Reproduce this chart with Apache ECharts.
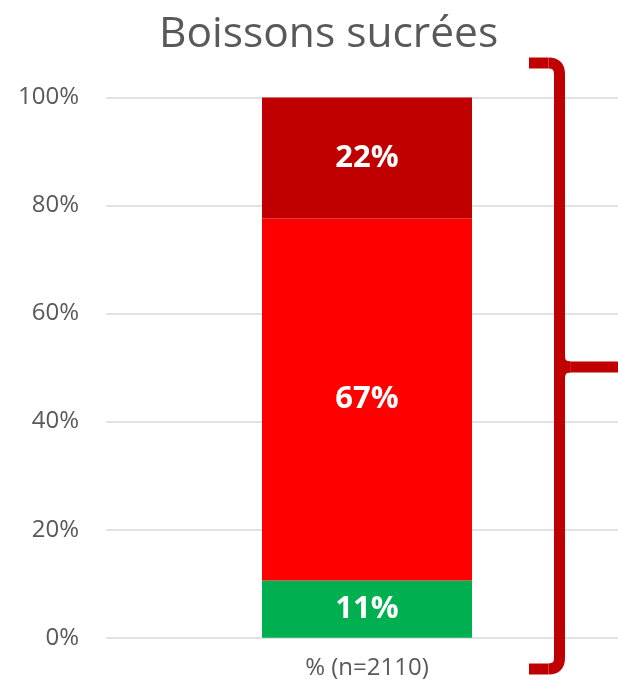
<!DOCTYPE html>
<html>
<head>
<meta charset="utf-8">
<script src="https://cdn.jsdelivr.net/npm/echarts@6/dist/echarts.min.js"></script>
<style>html,body{margin:0;padding:0;background:#fff}#c{width:618px;height:689px}</style>
</head>
<body>
<div id="c"></div>
<script>
const title = 'Boissons sucrées';
const categories = ['% (n=2110)'];
const seriesNames = ['Bas', 'Moyen', 'Haut'];
const valuesLow = [10.6];
const valuesMid = [67.0];
const valuesHigh = [22.4];
const yTicks = [0, 20, 40, 60, 80, 100];

const colors = ['#00B050', '#FF0000', '#C00000'];
const font = '"Open Sans", sans-serif';

const chart = echarts.init(document.getElementById('c'), null, {renderer: 'canvas'});

function mkSeries(name, data, color) {
  return {
    name: name,
    type: 'bar',
    stack: 'total',
    data: data,
    barWidth: 210,
    itemStyle: {color: color},
    label: {
      show: true,
      position: 'inside',
      color: '#ffffff',
      fontFamily: font,
      fontWeight: 'bold',
      fontSize: 31,
      formatter: p => Math.round(p.value) + '%'
    },
    emphasis: {disabled: true}
  };
}

const braceStyle = {fill: null, stroke: '#C00000', lineWidth: 11, lineCap: 'butt'};
function seg(x1, y1, x2, y2) {
  return {type: 'line', silent: true, z: 100, shape: {x1, y1, x2, y2}, style: braceStyle};
}
function curve(x1, y1, cx, cy, x2, y2) {
  return {type: 'bezierCurve', silent: true, z: 100, shape: {x1, y1, cpx1: cx, cpy1: cy, x2, y2}, style: braceStyle};
}
const bx = 559.5, bTop = 63, bMid = 367, bBot = 669, bLeft = 529, r = 11;

const option = {
  animation: false,
  backgroundColor: '#ffffff',
  title: {
    text: title,
    left: 154,
    top: 8,
    textStyle: {color: '#595959', fontFamily: font, fontWeight: 'normal', fontSize: 42.5}
  },
  grid: {left: 106, right: -10, top: 97.5, bottom: 51.3, containLabel: false, outerBoundsMode: 'none'},
  xAxis: {
    type: 'category',
    data: categories,
    axisLine: {show: false},
    axisTick: {show: false},
    axisLabel: {color: '#595959', fontFamily: font, fontSize: 24, margin: 18}
  },
  yAxis: {
    type: 'value',
    min: yTicks[0],
    max: yTicks[yTicks.length - 1],
    interval: yTicks[1] - yTicks[0],
    axisLine: {show: false},
    axisTick: {show: false},
    axisLabel: {color: '#595959', fontFamily: font, fontSize: 24, margin: 27, formatter: v => v + '%'},
    splitLine: {lineStyle: {color: '#D9D9D9', width: 1.5}}
  },
  series: [
    mkSeries(seriesNames[0], valuesLow, colors[0]),
    mkSeries(seriesNames[1], valuesMid, colors[1]),
    mkSeries(seriesNames[2], valuesHigh, colors[2])
  ],
  graphic: [
    seg(bLeft, bTop, bx - r, bTop),
    curve(bx - r, bTop, bx, bTop, bx, bTop + r),
    seg(bx, bTop + r, bx, bBot - r),
    curve(bx, bBot - r, bx, bBot, bx - r, bBot),
    seg(bx - r, bBot, bLeft, bBot),
    curve(bx, bMid - 11, bx, bMid, bx + 11, bMid),
    curve(bx, bMid + 11, bx, bMid, bx + 11, bMid),
    seg(bx + 11, bMid, 625, bMid)
  ]
};

chart.setOption(option);
</script>
</body>
</html>
